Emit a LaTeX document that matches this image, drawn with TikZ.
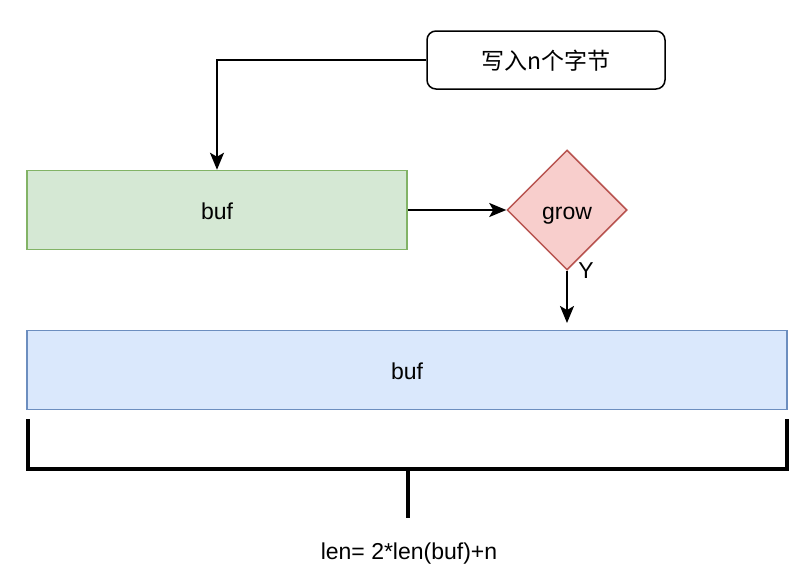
\documentclass[tikz,border=0pt]{standalone}
\usepackage{fontspec}
\setmainfont{Liberation Sans}
\newfontfamily\cjk{Noto Sans CJK SC}
\usetikzlibrary{shapes.geometric,arrows.meta}
\definecolor{gfill}{HTML}{D5E8D4}
\definecolor{gdraw}{HTML}{82B366}
\definecolor{rfill}{HTML}{F8CECC}
\definecolor{rdraw}{HTML}{B85450}
\definecolor{bfill}{HTML}{DAE8FC}
\definecolor{bdraw}{HTML}{6C8EBF}
\tikzset{
  lbl/.style={font=\fontsize{23}{28}\selectfont, inner sep=0pt, text height=18pt, text depth=0pt},
  boxbase/.style={lbl, rectangle, line width=1.5pt},
  conn/.style={line width=2pt, -{Stealth[length=17pt,width=14pt,inset=4pt]}},
  brk/.style={line width=4pt},
}
\begin{document}
\begin{tikzpicture}[x=1pt,y=-1pt]
\useasboundingbox (0,0) rectangle (804,568);
\node[boxbase, draw=black, rounded corners=9pt, minimum width=238pt, minimum height=58pt] (top) at (546,60) {\cjk 写入n个字节};
\node[boxbase, draw=gdraw, fill=gfill, minimum width=380pt, minimum height=79pt] (g1) at (217,210) {buf};
\node[lbl, diamond, aspect=1, draw=rdraw, fill=rfill, line width=1.5pt, minimum width=120pt, minimum height=120pt] (grow) at (567,210) {grow};
\node[boxbase, draw=bdraw, fill=bfill, minimum width=760pt, minimum height=79pt] (b2) at (407,370) {buf};
\node[lbl, anchor=center] (y) at (586,269) {Y};
\node[lbl, anchor=base] (len) at (409,559) {len= 2*len(buf)+n};
\draw[conn] (top.west) -| (g1.north);
\draw[conn] (g1.east) -- (grow.west);
\coordinate (gtip) at (567,323);
\draw[conn] (grow.south) -- (gtip);
\coordinate (bl) at (28,419);
\coordinate (br) at (787,419);
\coordinate (bm) at (408,469);
\coordinate (bmd) at (408,518);
\draw[brk] (bl) -- (28,469) -- (787,469) -- (br);
\draw[brk] (bm) -- (bmd);
\end{tikzpicture}
\end{document}
